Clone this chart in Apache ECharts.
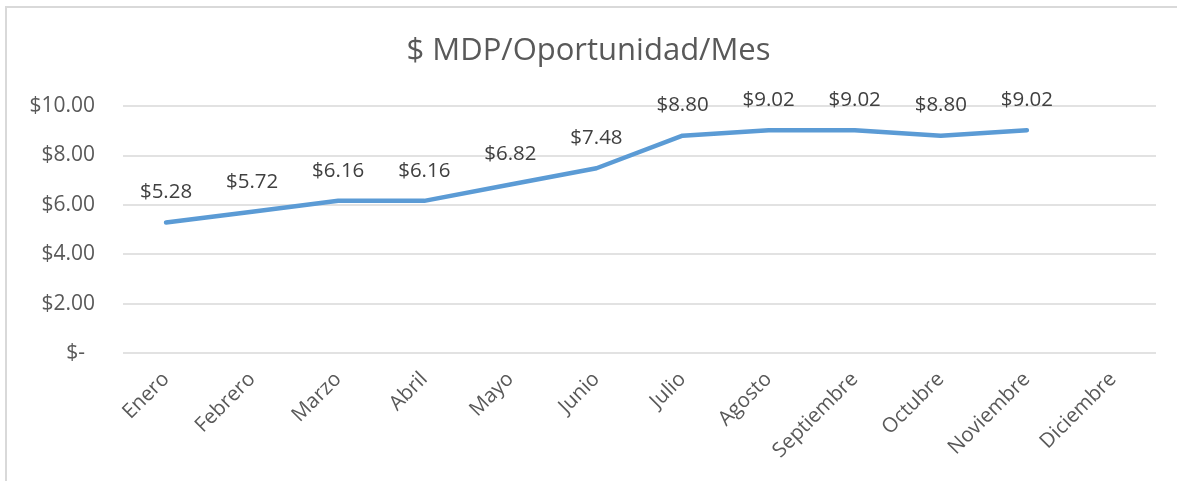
<!DOCTYPE html>
<html>
<head>
<meta charset="utf-8">
<script src="https://cdn.jsdelivr.net/npm/echarts@6/dist/echarts.min.js"></script>
<style>html,body{margin:0;padding:0;background:#fff}#c{width:1177px;height:481px}</style>
</head>
<body>
<div id="c"></div>
<script>
const categories = ['Enero','Febrero','Marzo','Abril','Mayo','Junio','Julio','Agosto','Septiembre','Octubre','Noviembre','Diciembre'];
const values = [5.28, 5.72, 6.16, 6.16, 6.82, 7.48, 8.80, 9.02, 9.02, 8.80, 9.02, null];
const yTicks = [0, 2, 4, 6, 8, 10];
const titleText = '$ MDP/Oportunidad/Mes';

const chart = echarts.init(document.getElementById('c'), null, {renderer: 'canvas'});
const font = '"Open Sans", "Noto Sans", sans-serif';
function money(v) {
  const n = Array.isArray(v) ? v[v.length - 1] : v;
  if (n === null || n === undefined || isNaN(n)) return '';
  return '$' + Number(n).toFixed(2);
}
chart.setOption({
  animation: false,
  textStyle: {fontFamily: font},
  graphic: [{
    type: 'rect', silent: true, z: -1,
    shape: {x: 6, y: 7, width: 1300, height: 600},
    style: {fill: 'none', stroke: '#d9d9d9', lineWidth: 2}
  }],
  title: {
    text: titleText, left: 'center', top: 31,
    textStyle: {fontFamily: font, fontSize: 31, fontWeight: 'normal', color: '#595959'}
  },
  grid: {left: 123, right: 21, top: 106, bottom: 128, containLabel: false},
  xAxis: {
    type: 'category', data: categories, boundaryGap: true,
    axisLine: {show: false}, axisTick: {show: false},
    axisLabel: {rotate: 45, fontSize: 20.5, color: '#595959', margin: 23, interval: 0, fontFamily: font}
  },
  yAxis: {
    type: 'value', min: yTicks[0], max: yTicks[yTicks.length - 1], interval: 2,
    axisLine: {show: false}, axisTick: {show: false},
    splitLine: {lineStyle: {color: '#d9d9d9', width: 1.5}},
    axisLabel: {
      fontSize: 21, color: '#595959', margin: 28, fontFamily: font,
      formatter: v => v === 0 ? '{z|$-}' : '$' + v.toFixed(2),
      rich: {z: {fontSize: 21, color: '#595959', fontFamily: font, padding: [0, 10, 0, 0]}}
    }
  },
  series: [{
    type: 'line', data: values, showSymbol: true, symbol: 'circle', symbolSize: 3,
    itemStyle: {color: '#5b9bd5'},
    lineStyle: {color: '#5b9bd5', width: 4.5, cap: 'round', join: 'round'},
    label: {
      show: true, position: 'top', distance: 18, fontSize: 20.5, color: '#404040', fontFamily: font,
      formatter: p => money(p.value)
    }
  }]
});
</script>
</body>
</html>
